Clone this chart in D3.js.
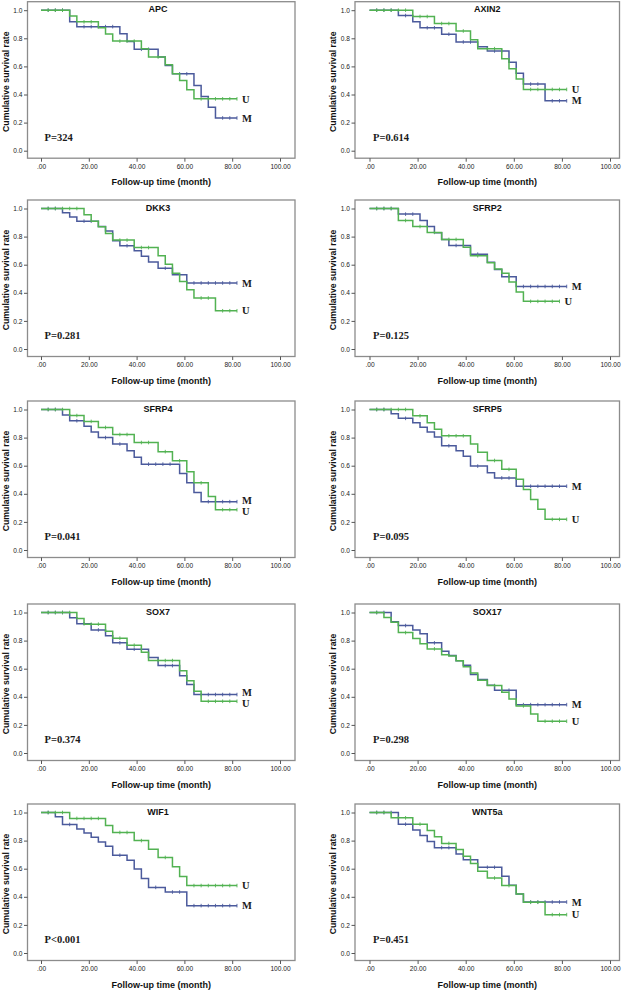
<!DOCTYPE html>
<html><head><meta charset="utf-8">
<script src="https://cdn.jsdelivr.net/npm/d3@7/dist/d3.min.js"></script>
<style>html,body{margin:0;padding:0;background:#fff;}svg{display:block;}</style>
</head><body>
<svg id="chart" width="625" height="992"></svg>
<script>
// ---------- data ----------
const genes = ["APC","AXIN2","DKK3","SFRP2","SFRP4","SFRP5","SOX7","SOX17","WIF1","WNT5a"];
const pLabels = ["P=324","P=0.614","P=0.281","P=0.125","P=0.041","P=0.095","P=0.374","P=0.298","P<0.001","P=0.451"];
const xTicks = [0,20,40,60,80,100];
const xTickLabels = [".00","20.00","40.00","60.00","80.00","100.00"];
const yTicks = [0,0.2,0.4,0.6,0.8,1.0];
const yTickLabels = ["0.0","0.2","0.4","0.6","0.8","1.0"];
const groupLabels = ["M","U"];

// step curves: [time, survival from that time on]; last entry = end of follow-up
const apcM = [[0,1],[12,.917],[15,.883],[33,.833],[36,.778],[39,.722],[49,.667],[52,.607],[55,.547],[64,.464],[67,.386],[70,.31],[73,.233],[82,.233]];
const apcU = [[0,1],[12,.958],[15,.917],[24,.875],[27,.83],[30,.78],[42,.725],[45,.667],[52,.612],[55,.548],[58,.5],[61,.433],[64,.369],[82,.369]];
const axin2M = [[0,1],[12,.962],[18,.917],[21,.875],[30,.829],[36,.774],[45,.74],[49,.71],[58,.63],[61,.552],[64,.474],[73,.355],[82,.355]];
const axin2U = [[0,1],[18,.955],[27,.905],[36,.852],[42,.79],[45,.726],[55,.655],[58,.583],[61,.51],[64,.436],[82,.436]];
const dkk3M = [[0,1],[9,.97],[12,.94],[15,.91],[24,.872],[27,.84],[30,.77],[33,.735],[39,.7],[42,.66],[45,.62],[49,.575],[55,.528],[61,.47],[82,.47]];
const dkk3U = [[0,1],[18,.955],[21,.91],[24,.87],[27,.822],[30,.775],[39,.722],[49,.664],[52,.604],[55,.54],[58,.48],[61,.422],[64,.363],[73,.272],[82,.272]];
const sfrp2M = [[0,1],[12,.96],[21,.915],[24,.872],[27,.827],[30,.78],[33,.737],[42,.675],[49,.618],[52,.566],[55,.514],[61,.445],[82,.445]];
const sfrp2U = [[0,1],[12,.915],[18,.872],[24,.83],[30,.78],[39,.725],[42,.664],[49,.613],[52,.57],[55,.54],[58,.476],[61,.405],[64,.339],[79,.339]];
const sfrp4M = [[0,1],[9,.96],[12,.92],[18,.88],[21,.84],[24,.8],[30,.754],[36,.706],[39,.66],[42,.611],[58,.545],[61,.478],[64,.41],[67,.344],[82,.344]];
const sfrp4U = [[0,1],[12,.957],[18,.915],[24,.872],[30,.822],[39,.765],[49,.7],[55,.635],[61,.557],[64,.478],[70,.38],[73,.287],[82,.287]];
const sfrp5M = [[0,1],[9,.97],[12,.937],[18,.906],[21,.874],[24,.84],[27,.805],[30,.742],[36,.707],[39,.667],[42,.597],[49,.55],[52,.513],[61,.454],[82,.454]];
const sfrp5U = [[0,1],[18,.955],[24,.906],[27,.86],[30,.813],[42,.754],[45,.696],[49,.637],[55,.574],[61,.503],[64,.43],[67,.36],[70,.29],[73,.218],[82,.218]];
const sox7M = [[0,1],[12,.962],[15,.92],[21,.876],[27,.834],[30,.784],[36,.739],[45,.68],[49,.622],[58,.55],[61,.487],[64,.416],[82,.416]];
const sox7U = [[0,1],[15,.957],[18,.917],[27,.867],[30,.817],[36,.767],[42,.717],[45,.658],[58,.585],[61,.515],[64,.44],[67,.368],[82,.368]];
const sox17M = [[0,1],[9,.934],[12,.907],[18,.876],[21,.848],[24,.784],[30,.724],[33,.694],[36,.656],[39,.625],[42,.558],[45,.523],[49,.482],[52,.447],[61,.344],[82,.344]];
const sox17U = [[0,1],[6,.965],[9,.93],[12,.857],[18,.815],[21,.777],[24,.741],[30,.7],[33,.69],[36,.656],[39,.613],[42,.57],[45,.518],[49,.48],[55,.432],[58,.385],[61,.335],[67,.278],[70,.226],[82,.226]];
const wif1M = [[0,1],[6,.97],[9,.915],[15,.882],[18,.854],[21,.823],[24,.79],[27,.76],[30,.696],[36,.66],[39,.597],[42,.53],[45,.467],[52,.434],[61,.337],[82,.337]];
const wif1U = [[0,1],[12,.958],[27,.907],[30,.858],[39,.8],[45,.738],[49,.68],[55,.613],[58,.545],[61,.48],[82,.48]];
const wnt5aM = [[0,1],[12,.917],[18,.876],[21,.836],[24,.793],[27,.75],[36,.705],[39,.663],[45,.61],[55,.546],[58,.482],[61,.42],[64,.363],[82,.363]];
const wnt5aU = [[0,1],[9,.962],[18,.917],[24,.872],[27,.827],[30,.78],[36,.736],[39,.689],[42,.637],[45,.582],[49,.534],[55,.48],[61,.42],[64,.361],[73,.273],[82,.273]];

// censored observation times
const apcMCens = [3,6,9,18,21,24,27,30,42,45,58,61,76,79,82];
const apcUCens = [3,6,9,18,21,33,36,39,49,67,70,73,76,79,82];
const axin2MCens = [3,6,9,15,24,27,33,39,42,52,55,67,70,76,79,82];
const axin2UCens = [3,6,9,12,15,21,24,30,33,39,49,52,67,70,73,76,79,82];
const dkk3MCens = [3,6,18,21,36,52,58,64,67,70,73,76,79,82];
const dkk3UCens = [3,6,9,12,15,33,36,42,45,67,70,76,79,82];
const sfrp2MCens = [3,6,9,15,18,36,39,45,58,64,67,70,73,76,79,82];
const sfrp2UCens = [3,6,9,15,21,27,33,36,45,67,70,73,76,79];
const sfrp4MCens = [3,6,15,27,33,45,48,51,54,70,73,76,79,82];
const sfrp4UCens = [3,6,9,15,21,27,33,36,42,45,52,58,67,76,79,82];
const sfrp5MCens = [3,6,15,33,45,55,58,64,67,70,73,76,79,82];
const sfrp5UCens = [3,6,9,12,15,21,33,36,39,52,58,76,79,82];
const sox7MCens = [3,6,9,18,24,33,39,42,52,55,67,70,73,76,79,82];
const sox7UCens = [3,6,9,12,21,24,33,39,49,52,55,70,73,76,79,82];
const sox17MCens = [3,6,15,27,55,58,64,67,70,73,76,79,82];
const sox17UCens = [3,15,27,52,64,73,76,79,82];
const wif1MCens = [3,12,33,48,55,58,64,67,70,73,76,79,82];
const wif1UCens = [3,6,9,15,18,21,24,33,36,42,52,64,67,70,73,76,79,82];
const wnt5aMCens = [3,6,9,15,30,33,42,49,52,67,70,73,76,79,82];
const wnt5aUCens = [3,6,12,15,21,33,52,58,67,70,76,79,82];

const panels = [
  {m: apcM, u: apcU, mc: apcMCens, uc: apcUCens},
  {m: axin2M, u: axin2U, mc: axin2MCens, uc: axin2UCens},
  {m: dkk3M, u: dkk3U, mc: dkk3MCens, uc: dkk3UCens},
  {m: sfrp2M, u: sfrp2U, mc: sfrp2MCens, uc: sfrp2UCens},
  {m: sfrp4M, u: sfrp4U, mc: sfrp4MCens, uc: sfrp4UCens},
  {m: sfrp5M, u: sfrp5U, mc: sfrp5MCens, uc: sfrp5UCens},
  {m: sox7M, u: sox7U, mc: sox7MCens, uc: sox7UCens},
  {m: sox17M, u: sox17U, mc: sox17MCens, uc: sox17UCens},
  {m: wif1M, u: wif1U, mc: wif1MCens, uc: wif1UCens},
  {m: wnt5aM, u: wnt5aU, mc: wnt5aMCens, uc: wnt5aUCens}
].map((p, i) => Object.assign(p, {name: genes[i], pv: pLabels[i]}));

// ---------- layout ----------
const colFrame = [[27.5, 295], [355, 619.5]];
const colRange = [[41, 280], [369.5, 610]];
const rowTop = [1.7, 200, 401, 604, 804];
const frameH = 156.5;
const COL_M = "#4b5a9c", COL_U = "#52b252";
const SANS = "'Liberation Sans', Arial, sans-serif";
const SERIF = "'Liberation Serif', 'Times New Roman', serif";

const svg = d3.select("#chart");

panels.forEach((p, i) => {
  const col = i % 2, row = Math.floor(i / 2);
  const top = rowTop[row];
  const [fx0, fx1] = colFrame[col];
  const x = d3.scaleLinear().domain([0, 100]).range(colRange[col]);
  const y = d3.scaleLinear().domain([0, 1]).range([top + 149, top + 8.5]);
  const g = svg.append("g");

  // frame
  g.append("rect").attr("x", fx0).attr("y", top).attr("width", fx1 - fx0).attr("height", frameH)
    .attr("fill", "#fff").attr("stroke", "#8c8c8c").attr("stroke-width", 1.3);

  // x axis
  const xa = g.append("g").attr("transform", `translate(0,${top + frameH})`)
    .call(d3.axisBottom(x).tickValues(xTicks).tickSize(3.5).tickPadding(2.5)
      .tickFormat((d, k) => xTickLabels[k]));
  xa.select(".domain").remove();
  xa.selectAll("line").attr("stroke", "#555");
  xa.selectAll("text").attr("font-family", SANS).attr("font-size", 6.6).attr("fill", "#222");

  // y axis
  const ya = g.append("g").attr("transform", `translate(${fx0},0)`)
    .call(d3.axisLeft(y).tickValues(yTicks).tickSize(3.5).tickPadding(1.5)
      .tickFormat((d, k) => yTickLabels[k]));
  ya.select(".domain").remove();
  ya.selectAll("line").attr("stroke", "#555");
  ya.selectAll("text").attr("font-family", SANS).attr("font-size", 6.6).attr("fill", "#222");

  // axis titles
  g.append("text").attr("x", (fx0 + fx1) / 2).attr("y", top + frameH + 27)
    .attr("text-anchor", "middle").attr("font-family", SANS).attr("font-weight", "bold")
    .attr("font-size", 9).attr("fill", "#111").text("Follow-up time (month)");
  g.append("text").attr("transform", `translate(${fx0 - 19},${top + 80}) rotate(-90)`)
    .attr("text-anchor", "middle").attr("font-family", SANS).attr("font-weight", "bold")
    .attr("font-size", 8.7).attr("fill", "#111").text("Cumulative survival rate");

  // panel title
  g.append("text").attr("x", x(49)).attr("y", y(1) - 1).attr("dy", "0.35em")
    .attr("text-anchor", "middle").attr("font-family", SANS).attr("font-weight", "bold")
    .attr("font-size", 9).attr("fill", "#111").text(p.name);

  // p value
  g.append("text").attr("x", x(1.5)).attr("y", y(0.095)).attr("dy", "0.35em")
    .attr("font-family", SERIF).attr("font-weight", "bold").attr("font-size", 10.5)
    .attr("fill", "#1a1a1a").text(p.pv);

  // curves (M first, U on top)
  const line = d3.line().x(d => x(d[0])).y(d => y(d[1])).curve(d3.curveStepAfter);
  const series = [
    {data: p.m, cens: p.mc, color: COL_M},
    {data: p.u, cens: p.uc, color: COL_U}
  ];
  series.forEach(s => {
    g.append("path").attr("d", line(s.data)).attr("fill", "none")
      .attr("stroke", s.color).attr("stroke-width", 1.5);
    const survAt = t => { let v = 1; s.data.forEach(d => { if (d[0] <= t) v = d[1]; }); return v; };
    g.selectAll(null).data(s.cens).enter().append("line")
      .attr("x1", d => x(d)).attr("x2", d => x(d))
      .attr("y1", d => y(survAt(d)) - 1.8).attr("y2", d => y(survAt(d)) + 1.8)
      .attr("stroke", s.color).attr("stroke-width", 0.9);
  });

  // end labels with collision avoidance
  const endM = p.m[p.m.length - 1], endU = p.u[p.u.length - 1];
  let vM = endM[1], vU = endU[1];
  const minSep = 0.075;
  if (Math.abs(vM - vU) < minSep) {
    const mid = (vM + vU) / 2, sgn = vM >= vU ? 1 : -1;
    vM = mid + sgn * minSep / 2; vU = mid - sgn * minSep / 2;
  }
  [[endM, vM, groupLabels[0]], [endU, vU, groupLabels[1]]].forEach(([e, v, lab]) => {
    g.append("text").attr("x", x(e[0]) + 5).attr("y", y(v)).attr("dy", "0.35em")
      .attr("font-family", SERIF).attr("font-weight", "bold").attr("font-size", 10.5)
      .attr("fill", "#1a1a1a").text(lab);
  });
});
</script>
</body></html>
